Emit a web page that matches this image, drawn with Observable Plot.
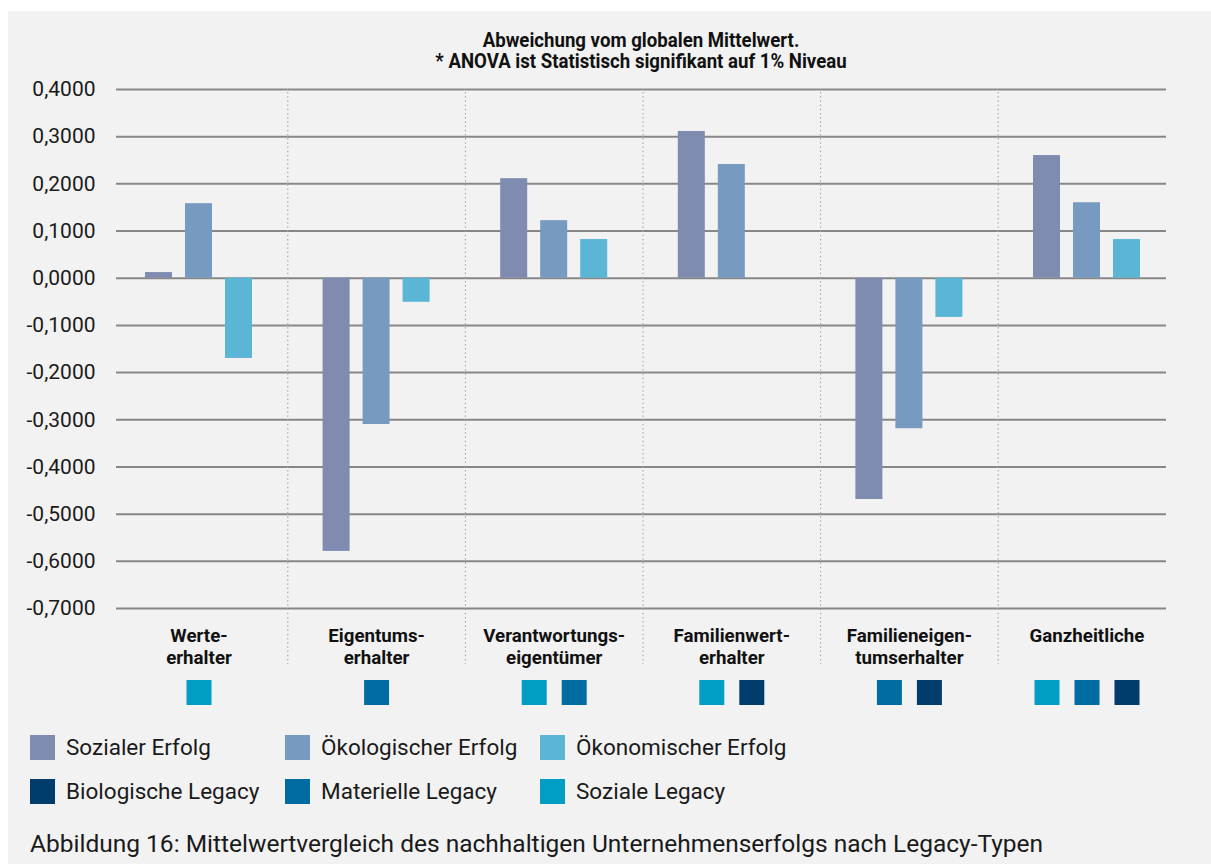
<!DOCTYPE html>
<html lang="de">
<head>
<meta charset="utf-8">
<script src="https://cdn.jsdelivr.net/npm/d3@7"></script>
<script src="https://cdn.jsdelivr.net/npm/@observablehq/plot@0.6"></script>
<style>
  html, body { margin: 0; padding: 0; background: #ffffff; }
  body { width: 1211px; height: 864px; position: relative; overflow: hidden; }
  #panel { position: absolute; left: 8px; top: 11px; width: 1203px; height: 853px; background: #f2f2f2; }
  #chart { position: absolute; left: 0; top: 0; }
  .title {
    position: absolute; left: 641px; transform: translateX(-50%) scaleX(0.955);
    font-family: Roboto, sans-serif; font-weight: bold; font-size: 19.5px; line-height: 20px;
    text-align: center; white-space: nowrap; color: #111;
  }
  #title1 { top: 31px; }
  #title2 { top: 52px; }
  #legend { position: absolute; left: 30px; top: 725px; width: 765px; }
  #legend .lg-swatches { font-family: Roboto, sans-serif; font-size: 22.5px; color: #1a1a1a; margin: 0; }
  #legend .lg-swatches-wrap { min-height: 0; }
  #legend .lg-swatch { width: 255px; height: 44px; margin: 0; }
  #legend .lg-swatch > svg { margin-right: 11px; }
  #caption {
    position: absolute; left: 30px; top: 832px; font-family: Roboto, sans-serif;
    font-size: 24.5px; line-height: 24px; color: #1a1a1a; white-space: nowrap;
  }
</style>
</head>
<body>
<div id="panel"></div>
<div id="chart"></div>
<div class="title" id="title1">Abweichung vom globalen Mittelwert.</div>
<div class="title" id="title2">* ANOVA ist Statistisch signifikant auf 1% Niveau</div>
<div id="legend"></div>
<div id="caption">Abbildung 16: Mittelwertvergleich des nachhaltigen Unternehmenserfolgs nach Legacy-Typen</div>
<script>
// Legacy types (x facets), with line breaks as printed under the axis
const categories = [
  "Werte-\nerhalter",
  "Eigentums-\nerhalter",
  "Verantwortungs-\neigentümer",
  "Familienwert-\nerhalter",
  "Familieneigen-\ntumserhalter",
  "Ganzheitliche"
];

// Success dimensions (bars within each group)
const successSeries = ["Sozialer Erfolg", "Ökologischer Erfolg", "Ökonomischer Erfolg"];

// Deviation from the global mean, one value per legacy type
const sozialerErfolg      = [0.012, -0.579, 0.211, 0.311, -0.469, 0.260];
const oekologischerErfolg = [0.158, -0.310, 0.122, 0.241, -0.319, 0.160];
const oekonomischerErfolg = [-0.170, -0.051, 0.082, null, -0.083, 0.082];

// Legacy markers shown beneath each group
const legacyTypes = ["Biologische Legacy", "Materielle Legacy", "Soziale Legacy"];
const legacyByCategory = [
  ["Soziale Legacy"],
  ["Materielle Legacy"],
  ["Soziale Legacy", "Materielle Legacy"],
  ["Soziale Legacy", "Biologische Legacy"],
  ["Materielle Legacy", "Biologische Legacy"],
  ["Soziale Legacy", "Materielle Legacy", "Biologische Legacy"]
];

// Y axis ticks
const yTicks = [0.4, 0.3, 0.2, 0.1, 0, -0.1, -0.2, -0.3, -0.4, -0.5, -0.6, -0.7];

// Colours
const successColors = ["#7f8caf", "#769ac0", "#5ab6d4"];
const legacyColors = ["#003c6c", "#006ca1", "#009dc4"];

// ---- tables ----
const seriesValues = [sozialerErfolg, oekologischerErfolg, oekonomischerErfolg];
const bars = [];
categories.forEach((cat, i) => {
  successSeries.forEach((s, k) => {
    const v = seriesValues[k][i];
    if (v != null) bars.push({cat, series: s, value: v});
  });
});

// Each marker sits on a bar slot or halfway between two slots
const markers = [];
legacyByCategory.forEach((list, i) => {
  const n = list.length;
  list.forEach((legacy, j) => {
    const pos = j - (n - 1) / 2 + 1;           // 0..2 in bar-slot units
    const slot = Math.floor(pos);
    markers.push({cat: categories[i], legacy, slot: successSeries[slot], between: pos !== slot});
  });
});

// Grid lines, repeated per facet (outer facets are trimmed slightly)
const grid = categories.flatMap((cat, i) => yTicks.map(y => ({cat, y, i})));
const gridStyle = {stroke: "#878787", strokeWidth: 2};

// ---- layout ----
const width = 1211;
const marginLeft = 109.7, marginRight = 35.7, marginTop = 89, marginBottom = 112;
const height = 720;
const facetWidth = (width - marginLeft - marginRight) / categories.length;
const barStep = 40, barPaddingInner = 0.325;
const barPaddingOuter = (facetWidth / barStep - successSeries.length + barPaddingInner) / 2;

const fmt = d => d.toFixed(4).replace(".", ",");

const colorDomain = [...successSeries, ...legacyTypes];
const colorRange = [...successColors, ...legacyColors];

const chart = Plot.plot({
  width, height, marginLeft, marginRight, marginTop, marginBottom,
  style: {fontFamily: "Roboto, sans-serif", fontSize: "21px", color: "#1a1a1a", background: "transparent", overflow: "visible"},
  fx: {domain: categories, padding: 0, round: false, axis: null},
  x: {domain: successSeries, paddingInner: barPaddingInner, paddingOuter: barPaddingOuter, round: false, axis: null},
  y: {domain: [-0.7, 0.4], ticks: yTicks, tickFormat: fmt, tickSize: 0, tickPadding: 14.7, label: null},
  color: {domain: colorDomain, range: colorRange},
  marks: [
    // horizontal grid
    Plot.ruleY(grid.filter(d => d.i === 0), {fx: "cat", y: "y", ...gridStyle, insetLeft: 6.3}),
    Plot.ruleY(grid.filter(d => d.i > 0 && d.i < categories.length - 1), {fx: "cat", y: "y", ...gridStyle}),
    Plot.ruleY(grid.filter(d => d.i === categories.length - 1), {fx: "cat", y: "y", ...gridStyle, insetRight: 9.3}),
    // dotted group separators
    Plot.ruleX(categories.slice(0, -1), {
      fx: d => d, x: null, dx: facetWidth / 2,
      stroke: "#9a9a9a", strokeWidth: 1, strokeDasharray: "1.4,2.8",
      insetTop: 3, insetBottom: -56
    }),
    Plot.barY(bars, {fx: "cat", x: "series", y: "value", fill: "series"}),
    // group labels
    Plot.text(categories, {
      fx: d => d, text: d => d, frameAnchor: "bottom", lineAnchor: "top", dy: 17.5,
      fontSize: 19, fontWeight: "bold", fontFamily: "Roboto, sans-serif", lineHeight: 1.16, fill: "#111"
    }),
    // legacy markers
    Plot.dot(markers.filter(d => !d.between), {
      fx: "cat", x: "slot", fill: "legacy", symbol: "square", r: 25 / Math.sqrt(Math.PI),
      frameAnchor: "bottom", dy: 84
    }),
    Plot.dot(markers.filter(d => d.between), {
      fx: "cat", x: "slot", fill: "legacy", symbol: "square", r: 25 / Math.sqrt(Math.PI),
      frameAnchor: "bottom", dy: 84, dx: barStep / 2
    })
  ]
});
document.getElementById("chart").append(chart);

// Condense the bold group labels horizontally about their own centre
chart.querySelectorAll('g[aria-label="text"] text').forEach(t => {
  const b = t.getBBox();
  const cx = b.x + b.width / 2;
  const prev = t.getAttribute("transform") || "";
  t.setAttribute("transform", `${prev} translate(${cx},0) scale(0.985,1) translate(${-cx},0)`);
});

const legend = Plot.legend({
  color: {type: "ordinal", domain: colorDomain, range: colorRange},
  legend: "swatches", swatchSize: 25, className: "lg"
});
document.getElementById("legend").append(legend);
</script>
</body>
</html>
